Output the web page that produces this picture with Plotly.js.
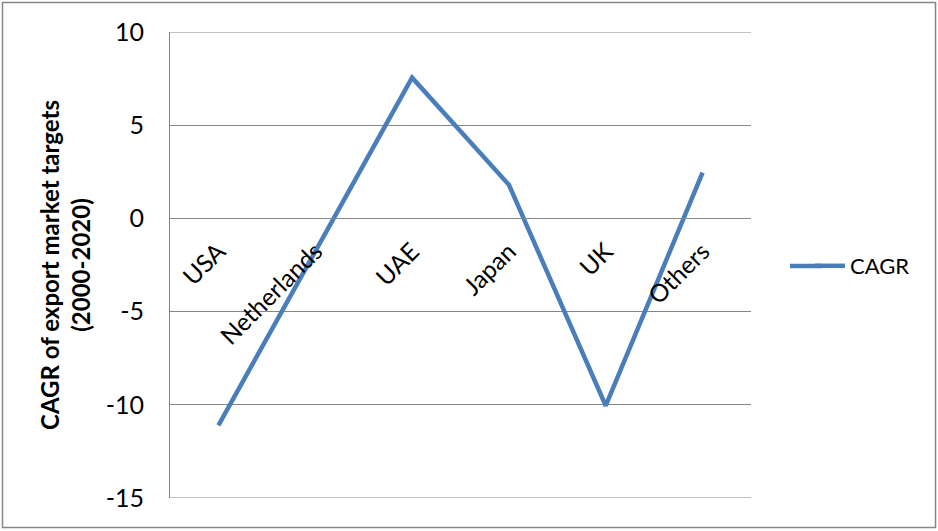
<!DOCTYPE html>
<html>
<head>
<meta charset="utf-8">
<script src="https://cdn.plot.ly/plotly-3.0.1.min.js"></script>
<style>html,body{margin:0;padding:0;background:#fff;}#chart{width:938px;height:531px;}</style>
</head>
<body>
<div id="chart"></div>
<script>
const categories = ["USA", "Netherlands", "UAE", "Japan", "UK", "Others"];
const cagrValues = [-11.1, -1.8, 7.55, 1.8, -10.05, 2.45];
const seriesName = "CAGR";
const yTickValues = [-15, -10, -5, 0, 5, 10];
const yTickText = ["-15", "-10", "-5", "0", "5", "10"];

const W = 938, H = 531;
const L = 170, R = 751, T = 32, B = 498;
const pw = R - L, ph = B - T;
const px = v => (v - L) / pw;
const py = v => (B - v) / ph;

const font = "Lato, 'Open Sans', 'Liberation Sans', sans-serif";
const lineColor = "#4a7ebb";
const gridColor = "#868686";

Plotly.newPlot("chart", [{
  type: "scatter",
  mode: "lines",
  x: categories,
  y: cagrValues,
  name: seriesName,
  line: {color: lineColor, width: 4.5},
  hoverinfo: "x+y"
}], {
  width: W, height: H,
  margin: {l: L, r: W - R, t: T, b: H - B, pad: 0},
  paper_bgcolor: "#ffffff",
  plot_bgcolor: "#ffffff",
  font: {family: font, size: 19, color: "#000"},
  showlegend: true,
  legend: {x: px(810), y: py(266), xanchor: "left", yanchor: "middle",
           font: {family: font, size: 22, color: "#000"}, bgcolor: "rgba(0,0,0,0)"},
  xaxis: {
    type: "category",
    range: [-0.5, categories.length - 0.5],
    anchor: "free",
    position: 15 / 25,
    showline: true, linecolor: gridColor, linewidth: 1,
    showgrid: false, zeroline: false,
    ticks: "", tickangle: -45,
    ticklabelstandoff: 8,
    tickfont: {family: font, size: 24.5, color: "#000"}
  },
  yaxis: {
    range: [-15, 10],
    tickvals: yTickValues,
    ticktext: yTickText,
    showline: true, linecolor: gridColor, linewidth: 1,
    showgrid: true, gridcolor: gridColor, gridwidth: 1,
    zeroline: false,
    ticks: "", ticklabelstandoff: 20,
    tickfont: {family: font, size: 25, color: "#000"},
    title: {text: "<b>CAGR of export market targets<br>(2000-2020)</b>",
            font: {family: font, size: 24, color: "#000"}, standoff: 8}
  },
  shapes: [{
    type: "rect", xref: "paper", yref: "paper",
    x0: px(2.5), x1: px(935.5), y0: py(527.5), y1: py(2.5),
    line: {color: gridColor, width: 1.5}, fillcolor: "rgba(0,0,0,0)", layer: "below"
  }, {
    type: "line", xref: "paper", yref: "y",
    x0: 0, x1: 1, y0: yTickValues[0], y1: yTickValues[0],
    line: {color: gridColor, width: 1}, layer: "below"
  }, {
    type: "line", xref: "paper", yref: "y",
    x0: 0, x1: 1, y0: yTickValues[yTickValues.length - 1], y1: yTickValues[yTickValues.length - 1],
    line: {color: gridColor, width: 1}, layer: "below"
  }, {
    type: "line", xref: "paper", yref: "paper",
    x0: px(790), x1: px(822), y0: py(266), y1: py(266),
    line: {color: lineColor, width: 4.5}
  }]
}, {displayModeBar: false, staticPlot: true});
</script>
</body>
</html>
